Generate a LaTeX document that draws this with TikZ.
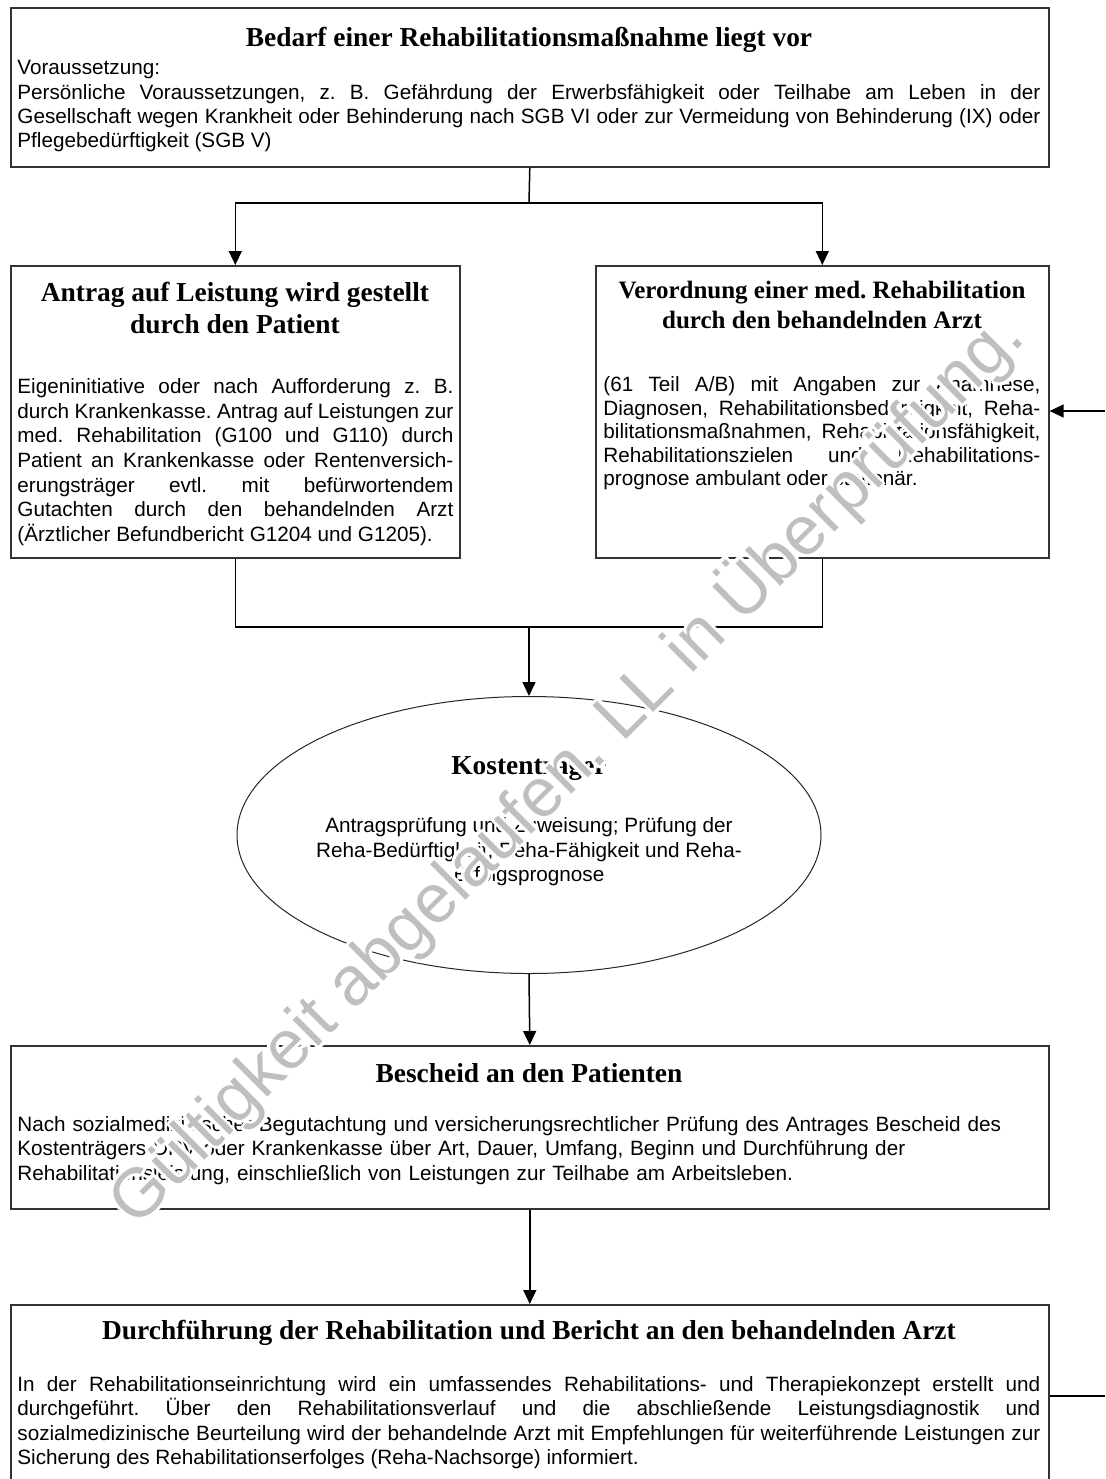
\documentclass[tikz,border=0pt]{standalone}
\usepackage{fontspec}
\setmainfont{Liberation Sans}
\newfontfamily\kopfschrift{Liberation Serif}
\usetikzlibrary{%
    arrows.meta,%
    shapes.geometric%
}

\tikzset{
  kasten/.style={draw=black!80, line width=0.8pt, anchor=north west, inner sep=0pt},
  kopf/.style={font=\kopfschrift\bfseries\fontsize{13.7}{16}\selectfont, align=center, inner sep=0pt},
  fliess/.style={font=\fontsize{10.35}{12.2}\selectfont, align=justify, inner sep=0pt, anchor=north west},
  pfeil/.style={-{Triangle[length=7pt,width=6.5pt]}},
  linie/.style={line width=0.75pt},
  wasserzeichen/.style={font=\fontsize{34.5}{40}\selectfont, rotate=44.9, anchor=base, inner sep=0pt}
}

\begin{document}
\frenchspacing
\begin{tikzpicture}[x=0.5pt, y=-0.5pt]

\useasboundingbox (0,0) rectangle (1105,1479);
\fill[white] (0,0) rectangle (1105,1479);

% Kaesten
\node[kasten, minimum width=519pt, minimum height=79.5pt] (bedarf) at (10,7) {};
\node[kasten, minimum width=224.5pt, minimum height=146pt] (antrag) at (10,265) {};
\node[kasten, minimum width=226.5pt, minimum height=146pt] (verordnung) at (595,265) {};
\node[draw=black!85, line width=0.5pt, ellipse, minimum width=292pt, minimum height=138.5pt, inner sep=0pt] (kosten) at (529,835) {};
\node[kasten, minimum width=519pt, minimum height=81.5pt] (bescheid) at (10,1045) {};
\node[kasten, minimum width=519pt, minimum height=100pt] (durchf) at (10,1304) {};

% Texte
\node[kopf] (bedarfkopf) at (529,40) {Bedarf einer Rehabilitationsmaßnahme liegt vor};
\node[fliess, text width=511.5pt] (bedarftext) at (17,60) {Voraussetzung:\\ Persönliche Voraussetzungen, z.~B. Gefährdung der Erwerbsfähigkeit oder Teilhabe am Leben in der\linebreak Gesellschaft wegen Krankheit oder Behinderung nach SGB VI oder zur Vermeidung von Behinderung (IX) oder\linebreak Pflegebedürftigkeit (SGB V)};

\node[kopf] (antragkopf) at (235,308) {Antrag auf Leistung wird gestellt\\ durch den Patient};
\node[fliess, text width=218pt, font=\fontsize{10.35}{12.35}\selectfont] (antragtext) at (17,378) {Eigeninitiative oder nach Aufforderung z.~B.\linebreak durch Krankenkasse. Antrag auf Leistungen zur\linebreak med. Rehabilitation (G100 und G110) durch\linebreak Patient an Krankenkasse oder Rentenversich-\linebreak erungsträger evtl. mit befürwortendem\linebreak Gutachten durch den behandelnden Arzt\linebreak (Ärztlicher Befundbericht G1204 und G1205).};

\node[kopf, font=\kopfschrift\bfseries\fontsize{12.5}{15}\selectfont] (verordnungkopf) at (822,305) {Verordnung einer med. Rehabilitation\\ durch den behandelnden Arzt};
\node[fliess, text width=218.5pt, font=\fontsize{10.35}{11.8}\selectfont] (verordnungtext) at (603,376) {(61 Teil A/B) mit Angaben zur Anamnese,\linebreak Diagnosen, Rehabilitationsbedürftigkeit, Reha-\linebreak bilitationsmaßnahmen, Rehabilitationsfähigkeit,\linebreak Rehabilitationszielen und Rehabilitations-\linebreak prognose ambulant oder stationär.};

\node[kopf] (kostenkopf) at (529,768) {Kostenträger};
\node[font=\fontsize{10.35}{12.2}\selectfont, align=center, inner sep=0pt] (kostentext) at (529,852) {Antragsprüfung und Zuweisung; Prüfung der\\ Reha-Bedürftigkeit, Reha-Fähigkeit und Reha-\\ Erfolgsprognose};

\node[kopf] (bescheidkopf) at (529,1073) {Bescheid an den Patienten};
\node[fliess, align=left, text width=511.5pt] (bescheidtext) at (17,1116) {Nach sozialmedizinischer Begutachtung und versicherungsrechtlicher Prüfung des Antrages Bescheid des\\ Kostenträgers DRV oder Krankenkasse über Art, Dauer, Umfang, Beginn und Durchführung der\\ Rehabilitationsleistung, einschließlich von Leistungen zur Teilhabe am Arbeitsleben.};

\node[kopf] (durchfkopf) at (529,1333) {Durchführung der Rehabilitation und Bericht an den behandelnden Arzt};
\node[fliess, text width=511.5pt] (durchftext) at (17,1376) {In der Rehabilitationseinrichtung wird ein umfassendes Rehabilitations- und Therapiekonzept erstellt und\linebreak durchgeführt. Über den Rehabilitationsverlauf und die abschließende Leistungsdiagnostik und\linebreak sozialmedizinische Beurteilung wird der behandelnde Arzt mit Empfehlungen für weiterführende Leistungen zur\linebreak Sicherung des Rehabilitationserfolges (Reha-Nachsorge) informiert.};

% Verbindungen
\coordinate (gabel) at (529,203);
\coordinate (sammel) at (529,627);
\coordinate (rueckoben) at (1105,411);
\coordinate (rueckunten) at (1105,1396);
\draw[linie] (bedarf.south) -- (gabel);
\draw[linie, pfeil] (gabel) -| (antrag.north);
\draw[linie, pfeil] (gabel) -| (verordnung.north);
\draw[linie] (antrag.south) |- (sammel);
\draw[linie] (verordnung.south) |- (sammel);
\draw[linie, pfeil] (sammel) -- (kosten.north);
\draw[linie, pfeil] (kosten.south) -- (bescheid.north);
\draw[linie, pfeil] (bescheid.south) -- (durchf.north);
\draw[linie, pfeil] (rueckoben) -- (rueckoben -| verordnung.east);
\draw[linie] (rueckunten -| durchf.east) -- (rueckunten);

% Wasserzeichen
\coordinate (wzpunkt) at (582,784);
\foreach \w in {0,30,...,330}
  \path (wzpunkt) ++(\w:3) node[wasserzeichen, white] (wzhalo\w) {Gültigkeit abgelaufen. LL in Überprüfung.};
\node[wasserzeichen, black!25] (wz) at (wzpunkt) {Gültigkeit abgelaufen. LL in Überprüfung.};

\end{tikzpicture}
\end{document}
